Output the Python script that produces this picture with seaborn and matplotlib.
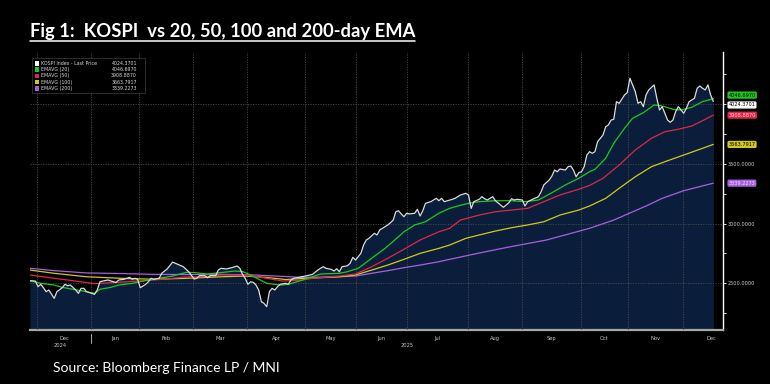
import matplotlib
matplotlib.use("Agg")
import matplotlib.pyplot as plt
import seaborn as sns
import pandas as pd
from matplotlib.lines import Line2D
from matplotlib.patches import Rectangle
from matplotlib.transforms import blended_transform_factory

# ---------------- data (x = trading-day index from late Nov 2024) ----------------
price_day = [0, 2, 3, 4, 5, 6, 7, 9, 10, 12, 13, 14, 15, 17, 18, 19, 20, 21, 23, 24, 25, 26, 27, 29, 31, 32, 33,
             35, 36, 37, 38, 39, 40, 41, 43, 44, 45, 46, 48, 49, 50, 51, 53, 55, 57, 59, 61, 62, 63, 65, 66, 67,
             69, 70, 71, 73, 74, 75, 77, 78, 79, 80, 81, 82, 83, 84, 85, 86, 87, 88, 89, 90, 91, 92, 93, 95, 96,
             97, 98, 101, 103, 105, 107, 108, 109, 110, 112, 113, 114, 115, 116, 118, 119, 120, 121, 123, 124,
             125, 126, 128, 129, 130, 131, 133, 134, 135, 136, 137, 138, 139, 140, 141, 143, 144, 145, 146, 147,
             149, 151, 152, 153, 154, 157, 158, 160, 162, 163, 164, 165, 167, 168, 169, 170, 171, 172, 173, 175,
             176, 178, 179, 180, 181, 183, 184, 185, 187, 189, 190, 191, 193, 194, 195, 196, 197, 199, 200, 201,
             202, 203, 204, 205, 206, 207, 208, 209, 210, 211, 213, 214, 215, 216, 217, 218, 219, 221, 222, 223,
             225, 226, 227, 228, 229, 230, 232, 233, 234, 235, 236, 237, 238, 239, 240, 241, 242, 243, 244, 245,
             247, 248, 249, 250, 251, 252, 253, 254]
kospi = [2522, 2519, 2472, 2492, 2463, 2430, 2444, 2374, 2430, 2463, 2492, 2480, 2486, 2444, 2416, 2458, 2458,
         2430, 2416, 2408, 2444, 2513, 2519, 2528, 2513, 2508, 2528, 2534, 2542, 2550, 2534, 2542, 2534, 2463,
         2492, 2513, 2542, 2534, 2542, 2584, 2603, 2620, 2678, 2659, 2639, 2597, 2536, 2542, 2564, 2564, 2547,
         2564, 2564, 2611, 2626, 2620, 2626, 2631, 2645, 2626, 2575, 2542, 2492, 2513, 2508, 2486, 2444, 2346,
         2332, 2304, 2430, 2458, 2444, 2472, 2492, 2500, 2492, 2528, 2542, 2555, 2564, 2575, 2611, 2626, 2639,
         2626, 2617, 2603, 2622, 2597, 2639, 2647, 2668, 2718, 2695, 2751, 2821, 2863, 2877, 2919, 2905, 2947,
         2961, 2989, 3008, 3030, 3100, 3108, 3081, 3058, 3087, 3081, 3087, 3120, 3064, 3108, 3170, 3184, 3212,
         3192, 3212, 3184, 3204, 3212, 3240, 3254, 3240, 3128, 3184, 3204, 3226, 3209, 3198, 3212, 3226, 3192,
         3156, 3137, 3175, 3209, 3198, 3204, 3198, 3148, 3184, 3206, 3226, 3268, 3324, 3366, 3399, 3449, 3435,
         3458, 3449, 3477, 3483, 3449, 3393, 3427, 3435, 3477, 3575, 3603, 3589, 3603, 3687, 3743, 3812, 3827,
         3868, 3874, 4022, 4008, 4078, 4097, 4218, 4106, 4008, 4022, 3980, 4078, 4120, 4162, 4050, 3952, 3980,
         3925, 3868, 3849, 3868, 3938, 3980, 3952, 3925, 3967, 4022, 4050, 4134, 4153, 4134, 4120, 4162, 4078,
         4024]

ema20_day = [0, 4, 9, 12, 16, 21, 24, 26, 30, 33, 38, 43, 48, 53, 58, 61, 66, 71, 76, 79, 82, 86, 88, 93, 96, 101,
             105, 108, 115, 118, 122, 127, 132, 137, 139, 143, 147, 152, 156, 159, 163, 167, 173, 179, 184, 189,
             194, 199, 204, 208, 210, 214, 217, 221, 224, 228, 232, 235, 239, 242, 246, 250, 254]
ema20 = [2522, 2500, 2486, 2466, 2450, 2430, 2416, 2450, 2466, 2486, 2500, 2523, 2542, 2561, 2592, 2590, 2578,
         2590, 2603, 2599, 2570, 2523, 2500, 2486, 2492, 2525, 2555, 2578, 2584, 2597, 2626, 2710, 2793, 2891,
         2932, 2989, 3016, 3087, 3128, 3148, 3170, 3184, 3192, 3192, 3184, 3198, 3259, 3324, 3380, 3435, 3455,
         3548, 3673, 3799, 3883, 3930, 3994, 3986, 3958, 3952, 3975, 4022, 4047]

ema50_day = [0, 9, 16, 24, 34, 46, 53, 58, 64, 71, 76, 82, 88, 94, 101, 105, 115, 121, 127, 133, 139, 145, 152,
             156, 160, 167, 173, 179, 185, 191, 197, 204, 208, 213, 219, 225, 231, 236, 241, 246, 251, 254]
ema50 = [2570, 2542, 2522, 2497, 2510, 2528, 2542, 2553, 2555, 2570, 2570, 2564, 2542, 2519, 2528, 2542, 2561,
         2578, 2639, 2710, 2785, 2863, 2932, 2961, 3030, 3072, 3100, 3114, 3128, 3184, 3240, 3288, 3320, 3380,
         3491, 3617, 3715, 3770, 3791, 3818, 3874, 3909]

ema100_day = [0, 9, 21, 34, 46, 58, 71, 80, 88, 95, 101, 115, 121, 127, 133, 139, 145, 152, 156, 162, 167, 173,
              179, 185, 191, 197, 204, 208, 214, 219, 225, 231, 237, 243, 249, 254]
ema100 = [2611, 2584, 2555, 2542, 2534, 2542, 2555, 2561, 2549, 2532, 2540, 2555, 2570, 2611, 2653, 2701, 2751,
          2793, 2821, 2877, 2905, 2938, 2966, 2989, 3016, 3072, 3114, 3148, 3212, 3296, 3393, 3477, 3527, 3575,
          3623, 3664]

ema200_day = [0, 9, 21, 34, 46, 58, 71, 83, 95, 101, 115, 121, 127, 133, 139, 145, 152, 156, 167, 178, 192, 208,
              217, 229, 235, 243, 254]
ema200 = [2626, 2606, 2587, 2582, 2575, 2574, 2575, 2570, 2557, 2549, 2555, 2561, 2584, 2606, 2631, 2653, 2681,
          2701, 2754, 2804, 2863, 2961, 3030, 3148, 3212, 3276, 3339]

series_names = ["KOSPI Index - Last Price", "EMAVG (20)", "EMAVG (50)", "EMAVG (100)", "EMAVG (200)"]
last_values = [4024.3701, 4046.6970, 3908.8870, 3663.7917, 3339.2273]

month_labels = ["Dec", "Jan", "Feb", "Mar", "Apr", "May", "Jun", "Jul", "Aug", "Sep", "Oct", "Nov", "Dec"]
month_start_day = [2.6, 22.7, 40.5, 60.6, 80.7, 102.2, 121.2, 140.1, 162.8, 182.9, 204.8, 222.3, 242.8]
month_end_day = 263.8
year_labels = ["2024", "2025"]
year_bounds = [0.0, 22.7, 257.6]

# ---------------- style ----------------
W, H = 770, 384
sns.set_style("dark")
plt.rcParams["font.family"] = ["DejaVu Sans"]

colors = ["#dcdcdc", "#1ec81e", "#dc2846", "#d2c81e", "#a860e0"]
navy = "#0a1e3c"
grid_c = "#4a4a4a"

fig = plt.figure(figsize=(W / 100, H / 100), dpi=100, facecolor="black")
ax = fig.add_axes([30 / W, 1 - 330 / H, (723 - 30) / W, (330 - 52) / H])
ax.set_facecolor("black")

ylo, yhi = 2109, 4438
ax.set_xlim(0, 257.6)
ax.set_ylim(ylo, yhi)

ax.fill_between(price_day, kospi, ylo, color=navy, lw=0, zorder=0.5)

dfs = [
    (price_day, kospi),
    (ema20_day, ema20),
    (ema50_day, ema50),
    (ema100_day, ema100),
    (ema200_day, ema200),
]
for (xd, yd), c in list(zip(dfs, colors))[::-1]:
    sns.lineplot(x=xd, y=yd, ax=ax, color=c, lw=0.9, estimator=None, zorder=3)

# grid
ax.set_axisbelow(False)
ax.set_xticks(month_start_day)
ax.set_xticklabels([])
ax.set_yticks([2500, 3000, 3500, 4000])
ax.set_yticks([2250, 2750, 3250, 3750, 4250], minor=True)
ax.set_yticklabels([f"{v:.4f}" for v in [2500, 3000, 3500, 4000]])
ax.grid(True, which="major", color=grid_c, lw=0.6, ls=(0, (1.5, 1.5)))
ax.yaxis.tick_right()
ax.tick_params(axis="y", which="both", direction="out", length=2, width=0.6, color="white",
               labelcolor="#d0d0d0", labelsize=3.6, pad=1.5)
ax.tick_params(axis="x", which="major", direction="out", length=2.5, width=0.6, color="#909090")
ax.set_xlabel("")
ax.set_ylabel("")
for s in ["left", "top"]:
    ax.spines[s].set_visible(False)
ax.spines["bottom"].set_color("#a8a8a8")
ax.spines["bottom"].set_linewidth(1.6)
ax.spines["right"].set_color("white")
ax.spines["right"].set_linewidth(1.0)

# month / year labels
tr = blended_transform_factory(ax.transData, ax.transAxes)
bounds = month_start_day + [month_end_day]
for i, lab in enumerate(month_labels):
    xm = (bounds[i] + bounds[i + 1]) / 2
    ax.text(xm, -0.03, lab, transform=tr, ha="center", va="center", fontsize=3.7, color="#c8c8c8")
for i, lab in enumerate(year_labels):
    xm = (year_bounds[i] + year_bounds[i + 1]) / 2
    ax.text(xm, -0.057, lab, transform=tr, ha="center", va="center", fontsize=3.7, color="#c8c8c8")
ax.add_line(Line2D([year_bounds[1], year_bounds[1]], [-0.015, -0.047], transform=tr, color="#c8c8c8",
                   lw=0.6, clip_on=False))

# last-value tags on the right
tr2 = blended_transform_factory(ax.transAxes, ax.transData)
tag_text = ["black", "black", "#ffd0d8", "black", "#f0e0ff"]
tag_shift = [-2.6, 2.6, 0, 0, 0]  # points, to keep the two top tags apart
order = [4, 3, 2, 1, 0]
for i in order:
    ax.annotate(f"{last_values[i]:.4f}", xy=(1.008, last_values[i]), xycoords=tr2,
                xytext=(0, tag_shift[i]), textcoords="offset points", ha="left", va="center",
                fontsize=3.6, color=tag_text[i], annotation_clip=False, zorder=10,
                bbox=dict(boxstyle="round,pad=0.22,rounding_size=0.3", fc=colors[i] if i else "white",
                          ec="none"))

# legend box (top-left)
fig.add_artist(Rectangle((32 / W, 1 - 93 / H), (145 - 32) / W, (93 - 58) / H, transform=fig.transFigure,
                         fc="black", ec="#333333", lw=0.6, zorder=20))
for i, (name, val) in enumerate(zip(series_names, last_values)):
    yy = 63.5 + 6.2 * i
    fig.add_artist(Rectangle((35 / W, 1 - (yy + 2.2) / H), 4.2 / W, 4.4 / H, transform=fig.transFigure,
                             fc=colors[i] if i else "white", ec="none", zorder=21))
    fig.text(41 / W, 1 - yy / H, name, fontsize=3.4, color="#d8d8d8", va="center", ha="left", zorder=22)
    fig.text(137 / W, 1 - yy / H, f"{val:.4f}", fontsize=3.4, color="#d8d8d8", va="center", ha="right",
             zorder=22)

# title with underline
title = fig.text(30 / W, 1 - 37.5 / H, "Fig 1:  KOSPI  vs 20, 50, 100 and 200-day EMA", fontsize=13.2,
                 fontweight="bold", color="white", family=["Lato", "DejaVu Sans"], va="baseline", ha="left")
fig.text(53 / W, 1 - 368 / H, "Source: Bloomberg Finance LP / MNI", fontsize=10, color="white",
         family=["Lato", "DejaVu Sans"], va="center", ha="left")
fig.canvas.draw()
bb = title.get_window_extent()
uy = 1 - 41 / H
fig.add_artist(Line2D([bb.x0 / W, bb.x1 / W], [uy, uy], transform=fig.transFigure, color="white", lw=1.1))

fig.savefig("out.png", dpi=100, facecolor="black")
